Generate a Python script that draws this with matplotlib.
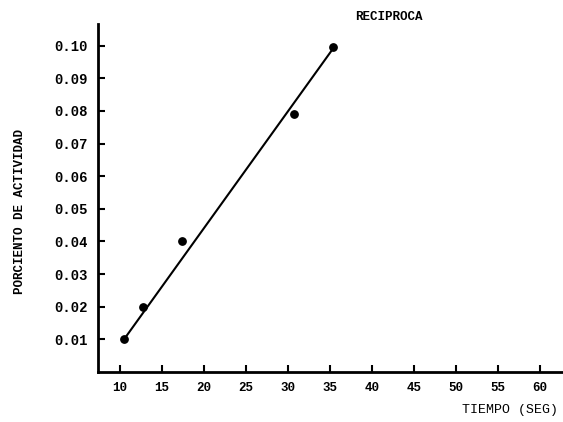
import numpy as np
import matplotlib
matplotlib.use('Agg')
import matplotlib.pyplot as plt

# puntos medidos
tiempo = [10.5, 12.7, 17.4, 30.7, 35.4]
actividad = [0.010, 0.020, 0.040, 0.079, 0.0995]

# recta trazada a mano
recta_x = [10.5, 35.2]
recta_y = [0.010, 0.0985]

xticks = [10, 15, 20, 25, 30, 35, 40, 45, 50, 55, 60]
yticks = [0.01, 0.02, 0.03, 0.04, 0.05, 0.06, 0.07, 0.08, 0.09, 0.10]

plt.rcParams['font.family'] = ['Liberation Mono', 'DejaVu Sans Mono']

fig = plt.figure(figsize=(5.63, 4.22), dpi=100)
ax = fig.add_axes([0.174, 0.1185, 0.824, 0.825])

ax.plot(recta_x, recta_y, color='black', lw=1.5)
ax.scatter(tiempo, actividad, color='black', s=28, zorder=3)

ax.set_xlim(7.4, 62.6)
ax.set_ylim(0, 0.1067)

ax.spines['top'].set_visible(False)
ax.spines['right'].set_visible(False)
ax.spines['left'].set_linewidth(2)
ax.spines['bottom'].set_linewidth(2)

ax.set_xticks(xticks)
ax.set_xticklabels([str(t) for t in xticks], fontsize=9, fontweight='bold')
ax.set_yticks(yticks)
ax.set_yticklabels(['%.2f' % t for t in yticks], fontsize=10, fontweight='bold')
ax.tick_params(direction='in', length=5, width=1.5, pad=7)

fig.text(0.69, 0.96, 'RECIPROCA', ha='center', va='center',
         fontsize=9, fontweight='bold')
fig.text(0.036, 0.5, 'PORCIENTO DE ACTIVIDAD', rotation=90, ha='center', va='center',
         fontsize=9, fontweight='bold')
fig.text(0.905, 0.028, 'TIEMPO (SEG)', ha='center', va='center', fontsize=9.5)

fig.savefig('out.png', dpi=100)
